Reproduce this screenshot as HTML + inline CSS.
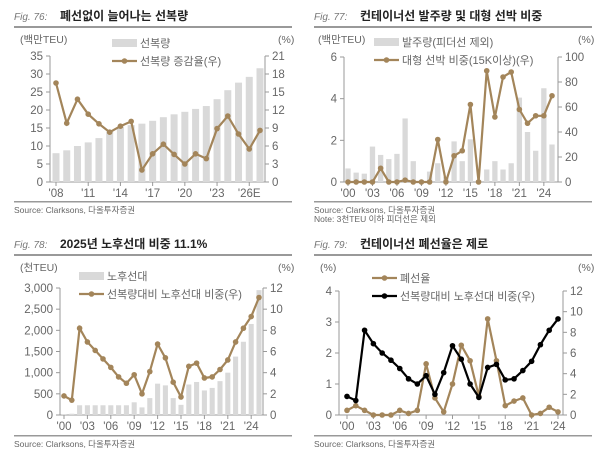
<!DOCTYPE html>
<html><head><meta charset="utf-8">
<style>
html,body{margin:0;padding:0;background:#fff;}
svg{display:block;font-family:"Liberation Sans","Noto Sans CJK KR",sans-serif;}
</style></head>
<body>
<svg id="s" width="600" height="456" viewBox="0 0 600 456" xmlns="http://www.w3.org/2000/svg"></svg>
<script>
const S=document.getElementById('s');let h='';
const BR='#a3855a',BAR='#d9d9d9',AX='#999',TX='#666';
function t(x,y,s,o={}){h+=`<text x="${x}" y="${y}" font-size="${o.fs||11}" fill="${o.c||TX}" text-anchor="${o.a||'start'}" ${o.w?'font-weight="bold"':''} ${o.i?'font-style="italic"':''}>${s}</text>`;}
function panel(p){
 const {ox,oy}=p;
 t(ox+14,oy+20,p.fig,{i:1,fs:10,c:'#777'});
 t(ox+60,oy+20,p.title,{fs:12,w:1,c:'#222'});
 h+=`<rect x="${ox+14}" y="${oy+26}" width="278" height="2" fill="#999"/>`;
 h+=`<rect x="${ox+14}" y="${p.by}" width="278" height="1.5" fill="#999"/>`;
 p.src.forEach((s,i)=>t(ox+14,p.by+12+i*9,s,{fs:8.5,c:'#666'}));
 const L=p.L,R=p.R,y0=p.y0,y1=p.y1;
 // left axis
 h+=`<line x1="${L}" y1="${y1}" x2="${L}" y2="${y0}" stroke="${AX}"/>`;
 h+=`<line x1="${R}" y1="${y1}" x2="${R}" y2="${y0}" stroke="${AX}"/>`;
 h+=`<line x1="${L}" y1="${y0}" x2="${R}" y2="${y0}" stroke="${AX}"/>`;
 const ly=v=>y0-(v-0)/(p.lmax)*(y0-y1), ry=v=>y0-v/p.rmax*(y0-y1);
 p.lt.forEach(v=>{const y=ly(v);h+=`<line x1="${L-4}" y1="${y}" x2="${L}" y2="${y}" stroke="${AX}"/>`;t(L-7,y+4,v.toLocaleString('en-US'),{a:'end',fs:11.5});});
 p.rt.forEach(v=>{const y=ry(v);h+=`<line x1="${R}" y1="${y}" x2="${R+4}" y2="${y}" stroke="${AX}"/>`;t(R+7,y+4,v,{fs:11.5});});
 t(p.lux,oy+43,p.lu,{fs:10.5});t(ox+278,oy+43,'(%)',{fs:10.5});
 const n=p.n,x=i=>p.x0+i*(p.x1-p.x0)/(n-1);
 if(p.bars){const bw=(p.x1-p.x0)/(n-1)*0.65;p.bars.forEach((v,i)=>{const y=ly(v);h+=`<rect x="${x(i)-bw/2}" y="${y}" width="${bw}" height="${y0-y}" fill="${BAR}"/>`;});}
 p.labs.forEach(([i,s])=>{h+=`<line x1="${x(i)}" y1="${y0}" x2="${x(i)}" y2="${y0+4}" stroke="${AX}"/>`;t(x(i),y0+15,s,{a:'middle',fs:11.5});});
 p.lines.forEach(ln=>{const f=ln.left?ly:ry;const pts=ln.d.map((v,i)=>`${x(i).toFixed(1)},${f(v).toFixed(1)}`).join(' ');
  h+=`<polyline points="${pts}" fill="none" stroke="${ln.c}" stroke-width="2.2"/>`;
  ln.d.forEach((v,i)=>h+=`<circle cx="${x(i)}" cy="${f(v)}" r="2.8" fill="${ln.c}"/>`);});
 p.leg.forEach(g=>{if(g.bar)h+=`<rect x="${g.x}" y="${g.y-4}" width="25" height="8" fill="${BAR}"/>`;
  else{h+=`<line x1="${g.x}" y1="${g.y}" x2="${g.x+25}" y2="${g.y}" stroke="${g.c}" stroke-width="2.2"/><circle cx="${g.x+12.5}" cy="${g.y}" r="2.8" fill="${g.c}"/>`;}
  t(g.x+28,g.y+4,g.s,{fs:11});});
}
panel({ox:0,oy:0,fig:'Fig. 76:',title:'폐선없이 늘어나는 선복량',by:201,src:['Source: Clarksons, 다올투자증권'],
 L:50,R:265,y0:182,y1:56,lmax:35,rmax:21,lt:[0,5,10,15,20,25,30,35],rt:[0,3,6,9,12,15,18,21],lu:'(백만TEU)',lux:20,
 n:20,x0:56,x1:260,bars:[8,8.8,10,11,12.2,14,15.3,15.8,16.2,17,18,18.8,19.5,20.3,21.1,23,25.5,27.6,29.2,31.6],
 labs:[[0,"'08"],[3,"'11"],[6,"'14"],[9,"'17"],[12,"'20"],[15,"'23"],[18,"'26E"]],
 lines:[{c:BR,d:[16.5,9.8,13.8,11.3,9.7,8.3,9.3,10.1,2,4.7,6.3,4.6,3,4.7,3.9,8.9,11,8,5.5,8.6]}],
 leg:[{bar:1,x:112,y:43,s:'선복량'},{x:112,y:61,c:BR,s:'선복량 증감율(우)'}]});
panel({ox:300,oy:0,fig:'Fig. 77:',title:'컨테이너선 발주량 및 대형 선박 비중',by:201,src:['Source: Clarksons, 다올투자증권','Note: 3천TEU 이하 피더선은 제외'],
 L:344,R:558,y0:182,y1:57,lmax:6,rmax:100,lt:[0,2,4,6],rt:[0,20,40,60,80,100],lu:'(백만TEU)',lux:318,
 n:26,x0:348,x1:552,bars:[0.65,0.45,0.4,1.7,1.3,1.1,1.35,3.05,1.0,0.05,0.5,0.9,0.25,1.95,1.0,2.05,0.1,0.6,1.0,0.6,0.9,4.05,2.4,1.5,4.5,1.8],
 labs:[[0,"'00"],[3,"'03"],[6,"'06"],[9,"'09"],[12,"'12"],[15,"'15"],[18,"'18"],[21,"'21"],[24,"'24"]],
 lines:[{c:BR,d:[0,0,0,0,11,0,0,1.5,0,0,0,34,0,21,25,62,0,89,52,84,88,58,47,53,53,69]}],
 leg:[{bar:1,x:374,y:42,s:'발주량(피더선 제외)'},{x:374,y:60,c:BR,s:'대형 선박 비중(15K이상)(우)'}]});
panel({ox:0,oy:228,fig:'Fig. 78:',title:'2025년 노후선대 비중 11.1%',by:435,src:['Source: Clarksons, 다올투자증권'],
 L:60,R:263,y0:415,y1:288,lmax:3000,rmax:12,lt:[0,500,1000,1500,2000,2500,3000],rt:[0,2,4,6,8,10,12],lu:'(천TEU)',lux:20,
 n:26,x0:64,x1:259,bars:[20,30,230,230,230,230,230,230,230,300,180,400,740,700,400,240,720,780,580,640,800,1000,1380,1730,2150,2950],
 labs:[[0,"'00"],[3,"'03"],[6,"'06"],[9,"'09"],[12,"'12"],[15,"'15"],[18,"'18"],[21,"'21"],[24,"'24"]],
 lines:[{c:BR,d:[1.8,1.4,8.2,6.9,6.1,5.3,4.5,3.6,3.0,3.8,2.0,4.1,6.7,5.4,3.1,1.7,4.6,4.9,3.5,3.6,4.3,5.2,6.9,8.2,9.3,11.1]}],
 leg:[{bar:1,x:79,y:276,s:'노후선대'},{x:79,y:294,c:BR,s:'선복량대비 노후선대 비중(우)'}]});
panel({ox:300,oy:228,fig:'Fig. 79:',title:'컨테이너선 폐선율은 제로',by:435,src:['Source: Clarksons, 다올투자증권'],
 L:339,R:563,y0:415,y1:291,lmax:4,rmax:12,lt:[0,1,2,3,4],rt:[0,2,4,6,8,10,12],lu:'(%)',lux:320,
 n:25,x0:347,x1:558,
 labs:[[0,"'00"],[3,"'03"],[6,"'06"],[9,"'09"],[12,"'12"],[15,"'15"],[18,"'18"],[21,"'21"],[24,"'24"]],
 lines:[{c:BR,left:1,d:[0.15,0.3,0.15,0,0,0,0.15,0.05,0.15,1.65,0.55,0.1,1.0,2.25,1.75,0.6,3.1,1.75,0.3,0.45,0.55,0,0.05,0.25,0.1]},
  {c:'#000',d:[1.8,1.4,8.2,6.9,6.0,5.3,4.5,3.5,3.0,3.8,2.0,4.1,6.7,5.4,3.0,1.7,4.6,4.9,3.4,3.5,4.3,5.2,6.8,8.2,9.3]}],
 leg:[{x:372,y:278,c:BR,s:'폐선율'},{x:372,y:296,c:'#000',s:'선복량대비 노후선대 비중(우)'}]});
S.innerHTML=h;
</script>
</body></html>
